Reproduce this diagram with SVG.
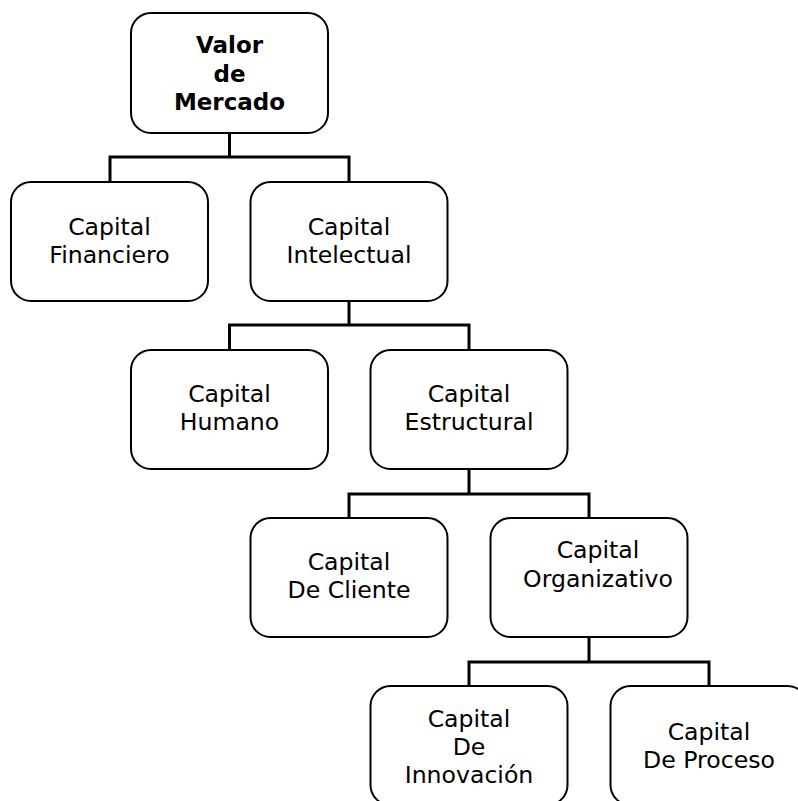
<svg xmlns="http://www.w3.org/2000/svg" width="798" height="801" viewBox="0 0 798 801">
  <style>
    .box { fill: #ffffff; stroke: #000000; stroke-width: 2; }
    .lbl { font-family: "DejaVu Sans", Verdana, sans-serif; font-size: 23.6px; fill: #000000; text-anchor: middle; }
    .bold { font-weight: bold; font-size: 23px; }
    .wire { fill: none; stroke: #000000; stroke-width: 3; stroke-linejoin: miter; stroke-linecap: square; }
  </style>
  <rect width="798" height="801" fill="#ffffff"/>

  <!-- tree connectors -->
  <g id="connectors">
    <path class="wire" d="M229.5,134 V157 M110,182 V157 H349 V182"/>
    <path class="wire" d="M349,302 V325 M229.5,350 V325 H469 V350"/>
    <path class="wire" d="M469,470 V494 M349,518 V494 H589 V518"/>
    <path class="wire" d="M589,638 V662 M469,686 V662 H709 V686"/>
  </g>

  <g id="valor-mercado">
    <rect class="box" x="131" y="13" width="197" height="120" rx="20"/>
    <text class="lbl bold" x="229.5" y="53">Valor</text>
    <text class="lbl bold" x="229.5" y="82">de</text>
    <text class="lbl bold" x="229.5" y="110">Mercado</text>
  </g>

  <g id="capital-financiero">
    <rect class="box" x="11" y="182" width="197" height="119" rx="20"/>
    <text class="lbl" x="109.5" y="235">Capital</text>
    <text class="lbl" x="109.5" y="263">Financiero</text>
  </g>

  <g id="capital-intelectual">
    <rect class="box" x="250.5" y="182" width="197" height="119" rx="20"/>
    <text class="lbl" x="349" y="235">Capital</text>
    <text class="lbl" x="349" y="263">Intelectual</text>
  </g>

  <g id="capital-humano">
    <rect class="box" x="131" y="350" width="197" height="119" rx="20"/>
    <text class="lbl" x="229.5" y="402">Capital</text>
    <text class="lbl" x="229.5" y="430">Humano</text>
  </g>

  <g id="capital-estructural">
    <rect class="box" x="370.5" y="350" width="197" height="119" rx="20"/>
    <text class="lbl" x="469" y="402">Capital</text>
    <text class="lbl" x="469" y="430">Estructural</text>
  </g>

  <g id="capital-cliente">
    <rect class="box" x="250.5" y="518" width="197" height="119" rx="20"/>
    <text class="lbl" x="349" y="570">Capital</text>
    <text class="lbl" x="349" y="598">De Cliente</text>
  </g>

  <g id="capital-organizativo">
    <rect class="box" x="490.5" y="518" width="197" height="119" rx="20"/>
    <text class="lbl" x="598" y="558">Capital</text>
    <text class="lbl" x="598" y="587">Organizativo</text>
  </g>

  <g id="capital-innovacion">
    <rect class="box" x="370.5" y="686" width="197" height="119" rx="20"/>
    <text class="lbl" x="469" y="727">Capital</text>
    <text class="lbl" x="469" y="755">De</text>
    <text class="lbl" x="469" y="783">Innovación</text>
  </g>

  <g id="capital-proceso">
    <rect class="box" x="610.5" y="686" width="197" height="119" rx="20"/>
    <text class="lbl" x="709" y="740">Capital</text>
    <text class="lbl" x="709" y="768">De Proceso</text>
  </g>
</svg>
